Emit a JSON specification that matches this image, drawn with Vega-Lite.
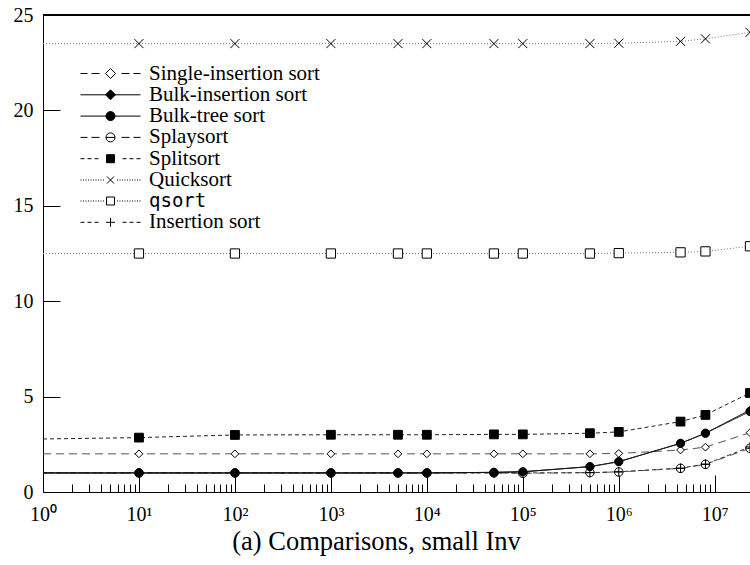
{
  "$schema": "https://vega.github.io/schema/vega-lite/v6.json",
  "width": 707,
  "height": 477,
  "autosize": "none",
  "padding": {"left": 43, "top": 15, "right": 0, "bottom": 73},
  "background": "white",
  "title": {"text": "(a) Comparisons, small Inv", "orient": "bottom", "anchor": "middle", "dx": -20, "offset": -4, "font": "Liberation Serif", "fontSize": 26.5, "fontWeight": "normal", "color": "black"},
  "data": {"values": [
    {"series": "Splaysort", "n": 1, "v": 1.0}, {"series": "Splaysort", "n": 10, "v": 1.0}, {"series": "Splaysort", "n": 100, "v": 1.0}, {"series": "Splaysort", "n": 1000, "v": 1.0}, {"series": "Splaysort", "n": 5000, "v": 1.0}, {"series": "Splaysort", "n": 10000, "v": 1.0}, {"series": "Splaysort", "n": 50000, "v": 1.0}, {"series": "Splaysort", "n": 100000, "v": 0.98}, {"series": "Splaysort", "n": 500000, "v": 1.02}, {"series": "Splaysort", "n": 1000000, "v": 1.05}, {"series": "Splaysort", "n": 4400000, "v": 1.24}, {"series": "Splaysort", "n": 8000000, "v": 1.45}, {"series": "Splaysort", "n": 23300000, "v": 2.29},
    {"series": "Insertion sort", "n": 1, "v": 1.0}, {"series": "Insertion sort", "n": 10, "v": 1.0}, {"series": "Insertion sort", "n": 100, "v": 1.0}, {"series": "Insertion sort", "n": 1000, "v": 1.0}, {"series": "Insertion sort", "n": 5000, "v": 1.0}, {"series": "Insertion sort", "n": 10000, "v": 1.0}, {"series": "Insertion sort", "n": 50000, "v": 1.0}, {"series": "Insertion sort", "n": 100000, "v": 1.0}, {"series": "Insertion sort", "n": 500000, "v": 1.01}, {"series": "Insertion sort", "n": 1000000, "v": 1.06}, {"series": "Insertion sort", "n": 4400000, "v": 1.25}, {"series": "Insertion sort", "n": 8000000, "v": 1.46}, {"series": "Insertion sort", "n": 23300000, "v": 2.36},
    {"series": "Single-insertion sort", "n": 1, "v": 2.0}, {"series": "Single-insertion sort", "n": 10, "v": 2.0}, {"series": "Single-insertion sort", "n": 100, "v": 2.0}, {"series": "Single-insertion sort", "n": 1000, "v": 2.0}, {"series": "Single-insertion sort", "n": 5000, "v": 2.0}, {"series": "Single-insertion sort", "n": 10000, "v": 2.0}, {"series": "Single-insertion sort", "n": 50000, "v": 2.0}, {"series": "Single-insertion sort", "n": 100000, "v": 2.0}, {"series": "Single-insertion sort", "n": 500000, "v": 2.0}, {"series": "Single-insertion sort", "n": 1000000, "v": 2.02}, {"series": "Single-insertion sort", "n": 4400000, "v": 2.2}, {"series": "Single-insertion sort", "n": 8000000, "v": 2.35}, {"series": "Single-insertion sort", "n": 23300000, "v": 3.11},
    {"series": "qsort", "n": 1, "v": 12.5}, {"series": "qsort", "n": 10, "v": 12.5}, {"series": "qsort", "n": 100, "v": 12.5}, {"series": "qsort", "n": 1000, "v": 12.5}, {"series": "qsort", "n": 5000, "v": 12.5}, {"series": "qsort", "n": 10000, "v": 12.5}, {"series": "qsort", "n": 50000, "v": 12.5}, {"series": "qsort", "n": 100000, "v": 12.5}, {"series": "qsort", "n": 500000, "v": 12.5}, {"series": "qsort", "n": 1000000, "v": 12.52}, {"series": "qsort", "n": 4400000, "v": 12.56}, {"series": "qsort", "n": 8000000, "v": 12.61}, {"series": "qsort", "n": 23300000, "v": 12.88},
    {"series": "Quicksort", "n": 1, "v": 23.5}, {"series": "Quicksort", "n": 10, "v": 23.5}, {"series": "Quicksort", "n": 100, "v": 23.5}, {"series": "Quicksort", "n": 1000, "v": 23.5}, {"series": "Quicksort", "n": 5000, "v": 23.5}, {"series": "Quicksort", "n": 10000, "v": 23.5}, {"series": "Quicksort", "n": 50000, "v": 23.5}, {"series": "Quicksort", "n": 100000, "v": 23.5}, {"series": "Quicksort", "n": 500000, "v": 23.5}, {"series": "Quicksort", "n": 1000000, "v": 23.52}, {"series": "Quicksort", "n": 4400000, "v": 23.62}, {"series": "Quicksort", "n": 8000000, "v": 23.75}, {"series": "Quicksort", "n": 23300000, "v": 24.09},
    {"series": "Splitsort", "n": 1, "v": 2.78}, {"series": "Splitsort", "n": 10, "v": 2.85}, {"series": "Splitsort", "n": 100, "v": 2.99}, {"series": "Splitsort", "n": 1000, "v": 3.0}, {"series": "Splitsort", "n": 5000, "v": 3.0}, {"series": "Splitsort", "n": 10000, "v": 3.0}, {"series": "Splitsort", "n": 50000, "v": 3.02}, {"series": "Splitsort", "n": 100000, "v": 3.02}, {"series": "Splitsort", "n": 500000, "v": 3.08}, {"series": "Splitsort", "n": 1000000, "v": 3.15}, {"series": "Splitsort", "n": 4400000, "v": 3.69}, {"series": "Splitsort", "n": 8000000, "v": 4.04}, {"series": "Splitsort", "n": 23300000, "v": 5.19},
    {"series": "Bulk-insertion sort", "n": 1, "v": 1.0}, {"series": "Bulk-insertion sort", "n": 10, "v": 1.0}, {"series": "Bulk-insertion sort", "n": 100, "v": 1.0}, {"series": "Bulk-insertion sort", "n": 1000, "v": 1.0}, {"series": "Bulk-insertion sort", "n": 5000, "v": 1.0}, {"series": "Bulk-insertion sort", "n": 10000, "v": 1.0}, {"series": "Bulk-insertion sort", "n": 50000, "v": 1.03}, {"series": "Bulk-insertion sort", "n": 100000, "v": 1.06}, {"series": "Bulk-insertion sort", "n": 500000, "v": 1.33}, {"series": "Bulk-insertion sort", "n": 1000000, "v": 1.59}, {"series": "Bulk-insertion sort", "n": 4400000, "v": 2.55}, {"series": "Bulk-insertion sort", "n": 8000000, "v": 3.08}, {"series": "Bulk-insertion sort", "n": 23300000, "v": 4.3},
    {"series": "Bulk-tree sort", "n": 1, "v": 1.0}, {"series": "Bulk-tree sort", "n": 10, "v": 1.0}, {"series": "Bulk-tree sort", "n": 100, "v": 1.0}, {"series": "Bulk-tree sort", "n": 1000, "v": 1.0}, {"series": "Bulk-tree sort", "n": 5000, "v": 1.0}, {"series": "Bulk-tree sort", "n": 10000, "v": 1.0}, {"series": "Bulk-tree sort", "n": 50000, "v": 1.03}, {"series": "Bulk-tree sort", "n": 100000, "v": 1.06}, {"series": "Bulk-tree sort", "n": 500000, "v": 1.33}, {"series": "Bulk-tree sort", "n": 1000000, "v": 1.59}, {"series": "Bulk-tree sort", "n": 4400000, "v": 2.55}, {"series": "Bulk-tree sort", "n": 8000000, "v": 3.08}, {"series": "Bulk-tree sort", "n": 23300000, "v": 4.22}
  ]},
  "layer": [
    {
      "mark": {"type": "rule", "color": "black", "strokeWidth": 1},
      "encoding": {"y": {"datum": 25, "type": "quantitative"}}
    },
    {
      "mark": {"type": "line", "strokeWidth": 1, "clip": true},
      "encoding": {
        "x": {"field": "n", "type": "quantitative", "scale": {"type": "log", "domain": [1, 23300000], "nice": false},
          "axis": {
            "title": null, "grid": false,
            "values": [1,2,3,4,5,6,7,8,9,10,20,30,40,50,60,70,80,90,100,200,300,400,500,600,700,800,900,1000,2000,3000,4000,5000,6000,7000,8000,9000,10000,20000,30000,40000,50000,60000,70000,80000,90000,100000,200000,300000,400000,500000,600000,700000,800000,900000,1000000,2000000,3000000,4000000,5000000,6000000,7000000,8000000,9000000,10000000],
            "tickSize": {"condition": {"test": "abs(log(datum.value)/LN10 - round(log(datum.value)/LN10)) < 0.000001", "value": -17}, "value": -8},
            "labelExpr": "abs(log(datum.value)/LN10 - round(log(datum.value)/LN10)) < 0.000001 ? '10' + ['⁰','¹','²','³','⁴','⁵','⁶','⁷','⁸'][round(log(datum.value)/LN10)] : ''",
            "labelFlush": false, "labelOverlap": false, "labelPadding": 29
          }
        },
        "y": {"field": "v", "type": "quantitative", "scale": {"domain": [0, 25], "nice": false},
          "axis": {"title": null, "grid": false, "values": [0, 5, 10, 15, 20, 25], "tickSize": -17, "labelPadding": 27}
        },
        "stroke": {"field": "series", "type": "nominal", "legend": null,
          "scale": {"domain": ["Insertion sort", "qsort", "Quicksort", "Splitsort", "Splaysort", "Bulk-tree sort", "Bulk-insertion sort", "Single-insertion sort"],
            "range": ["#333333", "#777777", "#777777", "#222222", "#555555", "#111111", "#000000", "#555555"]}},
        "strokeDash": {"field": "series", "type": "nominal", "legend": null,
          "scale": {"domain": ["Insertion sort", "qsort", "Quicksort", "Splitsort", "Splaysort", "Bulk-tree sort", "Bulk-insertion sort", "Single-insertion sort"],
            "range": [[4, 3], [1, 2], [1, 2], [4, 3], [8, 5], [1, 0], [1, 0], [8, 5]]}}
      }
    },
    {
      "transform": [{"filter": "datum.n > 1"}],
      "mark": {"type": "point", "strokeWidth": 1, "opacity": 1, "stroke": "black", "clip": true},
      "encoding": {
        "x": {"field": "n", "type": "quantitative"},
        "y": {"field": "v", "type": "quantitative"},
        "shape": {"field": "series", "type": "nominal", "legend": null,
          "scale": {"domain": ["Insertion sort", "qsort", "Quicksort", "Splitsort", "Splaysort", "Bulk-tree sort", "Bulk-insertion sort", "Single-insertion sort"],
            "range": ["M-1,0L1,0M0,-1L0,1", "square", "M-1,-1L1,1M-1,1L1,-1", "square", "M-1,0A1,1,0,1,1,1,0A1,1,0,1,1,-1,0ZM-1,0L1,0", "circle", "diamond", "diamond"]}},
        "size": {"field": "series", "type": "nominal", "legend": null,
          "scale": {"domain": ["Insertion sort", "qsort", "Quicksort", "Splitsort", "Splaysort", "Bulk-tree sort", "Bulk-insertion sort", "Single-insertion sort"],
            "range": [90, 60, 56, 60, 90, 90, 110, 110]}},
        "fill": {"field": "series", "type": "nominal", "legend": null,
          "scale": {"domain": ["Insertion sort", "qsort", "Quicksort", "Splitsort", "Splaysort", "Bulk-tree sort", "Bulk-insertion sort", "Single-insertion sort"],
            "range": ["white", "white", "white", "black", "white", "black", "black", "white"]}}
      }
    },
    {
      "mark": {"type": "point", "strokeWidth": 1, "opacity": 0, "stroke": "black", "size": 4},
      "encoding": {
        "x": {"field": "n", "type": "quantitative"},
        "y": {"field": "v", "type": "quantitative"},
        "shape": {"field": "series", "type": "nominal",
          "scale": {"domain": ["Single-insertion sort", "Bulk-insertion sort", "Bulk-tree sort", "Splaysort", "Splitsort", "Quicksort", "qsort", "Insertion sort"],
            "range": ["M-30,0L-23,0M-19,0L-11,0M11,0L19,0M23,0L30,0M0,-5L5,0L0,5L-5,0Z", "M-30,0L30,0M0,-5L5,0L0,5L-5,0Z", "M-30,0L30,0M-4.5,0A4.5,4.5,0,1,1,4.5,0A4.5,4.5,0,1,1,-4.5,0Z", "M-30,0L-23,0M-19,0L-11,0M11,0L19,0M23,0L30,0M-4.5,0A4.5,4.5,0,1,1,4.5,0A4.5,4.5,0,1,1,-4.5,0ZM-4.5,0L4.5,0", "M-30,0L-26,0M-23,0L-19,0M-16,0L-12,0M12,0L16,0M19,0L23,0M26,0L30,0M-4,-4L4,-4L4,4L-4,4Z", "M-30,0h1M-27.5,0h1M-25,0h1M-22.5,0h1M-20,0h1M-17.5,0h1M-15,0h1M-12.5,0h1M-10,0h1M-7.5,0h1M6.5,0h1M9,0h1M11.5,0h1M14,0h1M16.5,0h1M19,0h1M21.5,0h1M24,0h1M26.5,0h1M29,0h1M-3.5,-3.5L3.5,3.5M-3.5,3.5L3.5,-3.5", "M-30,0h1M-27.5,0h1M-25,0h1M-22.5,0h1M-20,0h1M-17.5,0h1M-15,0h1M-12.5,0h1M-10,0h1M-7.5,0h1M6.5,0h1M9,0h1M11.5,0h1M14,0h1M16.5,0h1M19,0h1M21.5,0h1M24,0h1M26.5,0h1M29,0h1M-4,-4L4,-4L4,4L-4,4Z", "M-30,0L-26,0M-23,0L-19,0M-16,0L-12,0M12,0L16,0M19,0L23,0M26,0L30,0M-4.5,0L4.5,0M0,-4.5L0,4.5"]},
          "legend": {
            "encode": {
              "symbols": {"update": {"stroke": {"value": "black"}, "strokeOpacity": {"value": 1}, "strokeWidth": {"value": 1}}},
              "labels": {"update": {
                "font": {"signal": "datum.label == 'qsort' ? 'DejaVu Sans Mono' : 'Liberation Serif'"},
                "fontSize": {"signal": "datum.label == 'qsort' ? 19 : 21"}
              }}
            }
          }
        },
        "fill": {"field": "series", "type": "nominal",
          "scale": {"domain": ["Single-insertion sort", "Bulk-insertion sort", "Bulk-tree sort", "Splaysort", "Splitsort", "Quicksort", "qsort", "Insertion sort"],
            "range": ["white", "black", "black", "white", "black", "white", "white", "white"]},
          "legend": {
            "encode": {
              "symbols": {"update": {"stroke": {"value": "black"}, "strokeOpacity": {"value": 1}, "strokeWidth": {"value": 1}}},
              "labels": {"update": {
                "font": {"signal": "datum.label == 'qsort' ? 'DejaVu Sans Mono' : 'Liberation Serif'"},
                "fontSize": {"signal": "datum.label == 'qsort' ? 19 : 21"}
              }}
            }
          }
        }
      }
    }
  ],
  "resolve": {"scale": {"shape": "independent", "fill": "independent", "size": "independent"}},
  "config": {
    "font": "Liberation Serif",
    "view": {"stroke": null},
    "axis": {"domainColor": "black", "domainWidth": 1, "tickColor": "black", "tickWidth": 1, "labelColor": "black", "labelFont": "Liberation Serif", "labelFontSize": 20},
    "legend": {
      "orient": "none", "legendX": 57, "legendY": 48, "title": null, "padding": 0, "offset": 0,
      "symbolSize": 4, "symbolStrokeWidth": 1, "symbolStrokeColor": "black", "labelOffset": 28, "rowPadding": -0.7,
      "labelFont": "Liberation Serif", "labelFontSize": 21, "labelColor": "black", "labelLimit": 400,
      "symbolOpacity": 1
    }
  }
}
